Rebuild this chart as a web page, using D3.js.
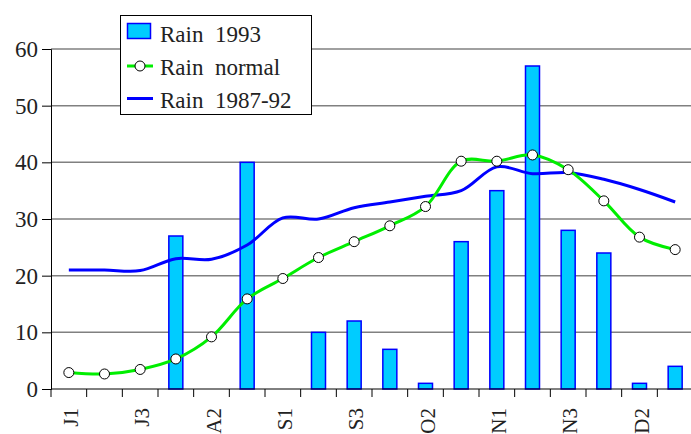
<!DOCTYPE html>
<html>
<head>
<meta charset="utf-8">
<script src="https://cdn.jsdelivr.net/npm/d3@7"></script>
<style>
body { margin: 0; background: #fff; }
</style>
</head>
<body>
<div id="chart"></div>
<script>
// decades Jul..Dec
var categories = ["J1","J2","J3","A1","A2","A3","S1","S2","S3","O1","O2","O3","N1","N2","N3","D1","D2","D3"];
var rain1993 = [null,null,null,27,null,40,null,10,12,7,1,26,35,57,28,24,1,4];
var rainNormal = [2.9,2.65,3.45,5.3,9.2,15.9,19.5,23.2,26,28.8,32.2,40.2,40.2,41.3,38.7,33.2,26.8,24.6];
var rain8792 = [21,21,20.9,23,22.9,25.4,30.2,30,32,33,34,35,39.2,38,38.2,37,35.2,33];
var yTicks = [0,10,20,30,40,50,60];
var legendLabels = ["Rain\u00a0 1993", "Rain\u00a0 normal", "Rain\u00a0 1987-92"];

var FONT = "'Liberation Serif'";
var width = 691, height = 434;
var margin = {top: 49, right: -2, bottom: 45, left: 51};

var svg = d3.select("#chart").append("svg")
    .attr("width", width)
    .attr("height", height);

var x = d3.scaleBand()
    .domain(categories)
    .range([margin.left, width - margin.right]);

var y = d3.scaleLinear()
    .domain([0, 60])
    .range([height - margin.bottom, margin.top]);

// gridlines
svg.append("g").selectAll("line")
    .data(yTicks.filter(function(d) { return d > 0; }))
    .enter().append("line")
    .attr("x1", margin.left)
    .attr("x2", width)
    .attr("y1", function(d) { return y(d); })
    .attr("y2", function(d) { return y(d); })
    .attr("stroke", "#808080")
    .attr("stroke-width", 1.5);

// bars
var bw = 14;
svg.append("g").selectAll("rect")
    .data(rain1993.map(function(v, i) { return {c: categories[i], v: v}; })
        .filter(function(d) { return d.v != null; }))
    .enter().append("rect")
    .attr("x", function(d) { return x(d.c) + x.bandwidth() / 2 - bw / 2; })
    .attr("y", function(d) { return y(d.v); })
    .attr("width", bw)
    .attr("height", function(d) { return y(0) - y(d.v); })
    .attr("fill", "#00ccff")
    .attr("stroke", "#0000ff")
    .attr("stroke-width", 1.5);

var cx = function(d, i) { return x(categories[i]) + x.bandwidth() / 2; };
var line = d3.line()
    .x(cx)
    .y(function(d) { return y(d); })
    .curve(d3.curveCatmullRom.alpha(0.5));

svg.append("path")
    .attr("d", line(rain8792))
    .attr("fill", "none")
    .attr("stroke", "#0000ff")
    .attr("stroke-width", 3);

svg.append("path")
    .attr("d", line(rainNormal))
    .attr("fill", "none")
    .attr("stroke", "#00ee00")
    .attr("stroke-width", 3);

svg.append("g").selectAll("circle")
    .data(rainNormal)
    .enter().append("circle")
    .attr("cx", cx)
    .attr("cy", function(d) { return y(d); })
    .attr("r", 5)
    .attr("fill", "#fff")
    .attr("stroke", "#000")
    .attr("stroke-width", 1);

// y axis
var yAxis = svg.append("g")
    .attr("transform", "translate(" + margin.left + ",0)")
    .call(d3.axisLeft(y).tickValues(yTicks).tickSize(9).tickPadding(4));
yAxis.selectAll("text")
    .style("font-family", FONT)
    .style("font-size", "23px")
    .attr("fill", "#222");

// x axis
var xAxis = svg.append("g")
    .attr("transform", "translate(0," + y(0) + ")")
    .call(d3.axisBottom(x).tickSize(0).tickFormat(""));
xAxis.select(".domain").attr("d", "M" + margin.left + ",0H" + width);

svg.append("g").selectAll("line")
    .data(categories)
    .enter().append("line")
    .attr("x1", function(d) { return x(d); })
    .attr("x2", function(d) { return x(d); })
    .attr("y1", y(0))
    .attr("y2", y(0) + 8)
    .attr("stroke", "#000");

svg.append("g").selectAll("text")
    .data(categories.filter(function(d, i) { return i % 2 === 0; }))
    .enter().append("text")
    .attr("transform", function(d) {
        return "translate(" + (x(d) + x.bandwidth() / 2 + 9) + "," + (y(0) + 19) + ")rotate(-90)";
    })
    .attr("text-anchor", "end")
    .attr("fill", "#222")
    .style("font-family", FONT)
    .style("font-size", "21px")
    .text(function(d) { return d; });

// legend
var lg = svg.append("g");
lg.append("rect")
    .attr("x", 120.5).attr("y", 15.5)
    .attr("width", 191).attr("height", 99)
    .attr("fill", "#fff").attr("stroke", "#000");
lg.append("rect")
    .attr("x", 127.5).attr("y", 23.5).attr("width", 23).attr("height", 15)
    .attr("fill", "#00ccff").attr("stroke", "#0000ff").attr("stroke-width", 1.5);
lg.append("line")
    .attr("x1", 127).attr("x2", 153).attr("y1", 66).attr("y2", 66)
    .attr("stroke", "#00ee00").attr("stroke-width", 3);
lg.append("circle")
    .attr("cx", 140).attr("cy", 66).attr("r", 5)
    .attr("fill", "#fff").attr("stroke", "#000");
lg.append("line")
    .attr("x1", 127).attr("x2", 153).attr("y1", 98.5).attr("y2", 98.5)
    .attr("stroke", "#0000ff").attr("stroke-width", 3);
lg.selectAll("text.lbl")
    .data(legendLabels)
    .enter().append("text")
    .attr("class", "lbl")
    .attr("x", 160)
    .attr("y", function(d, i) { return 41.5 + i * 33; })
    .attr("fill", "#222")
    .style("font-family", FONT)
    .style("font-size", "23px")
    .text(function(d) { return d; });
</script>
</body>
</html>
